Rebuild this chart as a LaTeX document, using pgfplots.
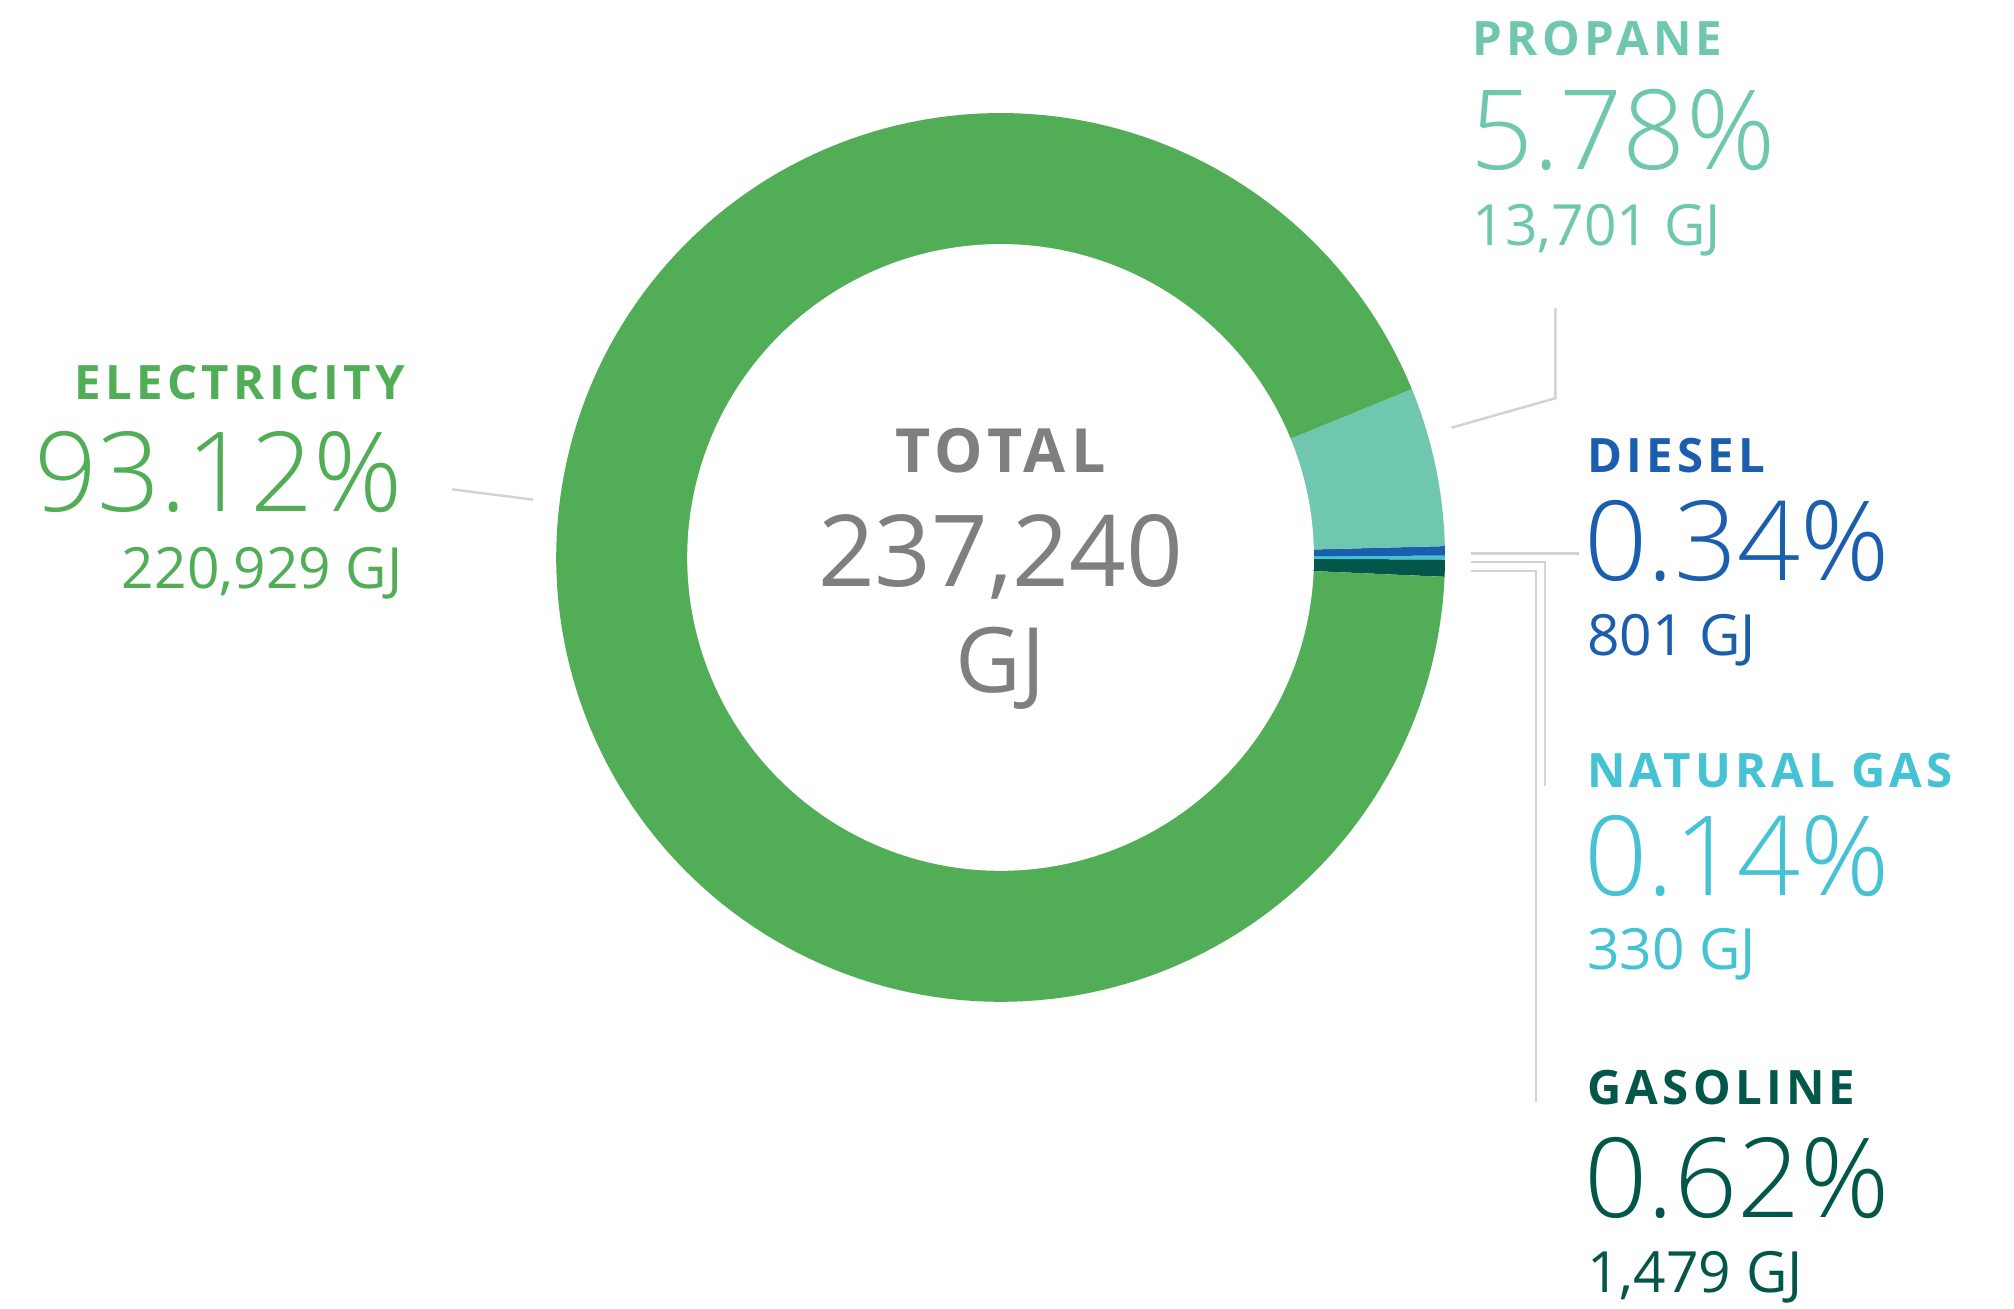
\documentclass[border=0pt]{standalone}
\usepackage{fontspec}
\setmainfont{Open Sans}
\newfontfamily\hdr{Open Sans}[LetterSpace=9]
\newfontfamily\lite{Open Sans Light}
\usepackage{pgfplots}
\usepackage{pgfplotstable}
\pgfplotsset{compat=1.18}

\definecolor{cElec}{HTML}{51AE57}
\definecolor{cProp}{HTML}{6FC7AF}
\definecolor{cDies}{HTML}{1B5EAD}
\definecolor{cNGas}{HTML}{45C2D3}
\definecolor{cGaso}{HTML}{02574A}
\definecolor{cTot}{HTML}{7F7F80}
\definecolor{cLine}{HTML}{D3D3D3}

% energy use by source (GJ, share of total)
\pgfplotstableread{
source gj pct
Gasoline 1479 0.62
NaturalGas 330 0.14
Diesel 801 0.34
Propane 13701 5.78
Electricity 220929 93.12
}\energy

\newcommand{\hd}{\fontsize{10.5}{12}\hdr\bfseries}
\newcommand{\pc}{\fontsize{24.5}{28}\lite}
\newcommand{\gj}{\fontsize{12.6}{14}\selectfont}

\begin{document}
\begin{tikzpicture}
% cumulative angles, counter-clockwise from just below 3 o'clock
\def\startang{-2.5}
\pgfplotstablegetelem{0}{pct}\of\energy \pgfmathsetmacro\aA{\startang+3.6*\pgfplotsretval}
\pgfplotstablegetelem{1}{pct}\of\energy \pgfmathsetmacro\aB{\aA+3.6*\pgfplotsretval}
\pgfplotstablegetelem{2}{pct}\of\energy \pgfmathsetmacro\aC{\aB+3.6*\pgfplotsretval}
\pgfplotstablegetelem{3}{pct}\of\energy \pgfmathsetmacro\aD{\aC+3.6*\pgfplotsretval}
\pgfmathsetmacro\aE{\startang+360}
\begin{axis}[width=15.68cm,height=10.19cm,scale only axis,
  xmin=0,xmax=1568,ymin=0,ymax=1019,hide axis,clip=false]
  % keep the whole canvas in the bounding box (hide axis drops it)
  \path (rel axis cs:0,0) rectangle (rel axis cs:1,1);
  % donut: sectors to the centre, hole punched afterwards
  \addplot[fill=cGaso,draw=none,domain=\startang:\aA,samples=12] ({779+346*cos(x)},{585+346*sin(x)}) -- (779,585) -- cycle;
  \addplot[fill=cNGas,draw=none,domain=\aA:\aB,samples=12] ({779+346*cos(x)},{585+346*sin(x)}) -- (779,585) -- cycle;
  \addplot[fill=cDies,draw=none,domain=\aB:\aC,samples=12] ({779+346*cos(x)},{585+346*sin(x)}) -- (779,585) -- cycle;
  \addplot[fill=cProp,draw=none,domain=\aC:\aD,samples=30] ({779+346*cos(x)},{585+346*sin(x)}) -- (779,585) -- cycle;
  \addplot[fill=cElec,draw=none,domain=\aD:\aE,samples=200] ({779+346*cos(x)},{585+346*sin(x)}) -- (779,585) -- cycle;
  \addplot[fill=white,draw=none,domain=0:360,samples=200] ({779+244*cos(x)},{585+244*sin(x)}) -- cycle;

  % leader lines
  \addplot[cLine,line width=0.55pt] coordinates {(352,638) (415,630)};
  \addplot[cLine,line width=0.55pt] coordinates {(1130,686) (1211,709) (1211,779)};
  \addplot[cLine,line width=0.55pt] coordinates {(1145,588) (1229,588)};
  \addplot[cLine,line width=0.55pt] coordinates {(1145,581.5) (1203,581.5) (1203,407)};
  \addplot[cLine,line width=0.55pt] coordinates {(1145,574.5) (1196,574.5) (1196,161)};

  % centre
  \node[cTot,anchor=base,inner sep=0] at (779,651) {\fontsize{13.5}{16}\hdr\bfseries TOTAL};
  \node[cTot,anchor=base,inner sep=0] at (779,562) {\fontsize{22}{26}\selectfont 237,240};
  \node[cTot,anchor=base,inner sep=0] at (779,480) {\fontsize{20}{24}\selectfont GJ};

  % electricity
  \node[cElec,anchor=base east,inner sep=0] at (316,708) {\hd ELECTRICITY};
  \node[cElec,anchor=base east,inner sep=0] at (314,621) {\pc 93.12\%};
  \node[cElec,anchor=base east,inner sep=0] at (314,561) {\gj 220,929 GJ};
  % propane
  \node[cProp,anchor=base west,inner sep=0] at (1146,976) {\hd PROPANE};
  \node[cProp,anchor=base west,inner sep=0] at (1144,887) {\pc 5.78\%};
  \node[cProp,anchor=base west,inner sep=0] at (1146,828) {\gj 13,701 GJ};
  % diesel
  \node[cDies,anchor=base west,inner sep=0] at (1235,651) {\hd DIESEL};
  \node[cDies,anchor=base west,inner sep=0] at (1233,567) {\pc 0.34\%};
  \node[cDies,anchor=base west,inner sep=0] at (1235,509) {\gj 801 GJ};
  % natural gas
  \node[cNGas,anchor=base west,inner sep=0] at (1235,406) {\hd NATURAL GAS};
  \node[cNGas,anchor=base west,inner sep=0] at (1233,322) {\pc 0.14\%};
  \node[cNGas,anchor=base west,inner sep=0] at (1235,264) {\gj 330 GJ};
  % gasoline
  \node[cGaso,anchor=base west,inner sep=0] at (1235,159) {\hd GASOLINE};
  \node[cGaso,anchor=base west,inner sep=0] at (1233,71) {\pc 0.62\%};
  \node[cGaso,anchor=base west,inner sep=0] at (1235,13) {\gj 1,479 GJ};
\end{axis}
\end{tikzpicture}
\end{document}
